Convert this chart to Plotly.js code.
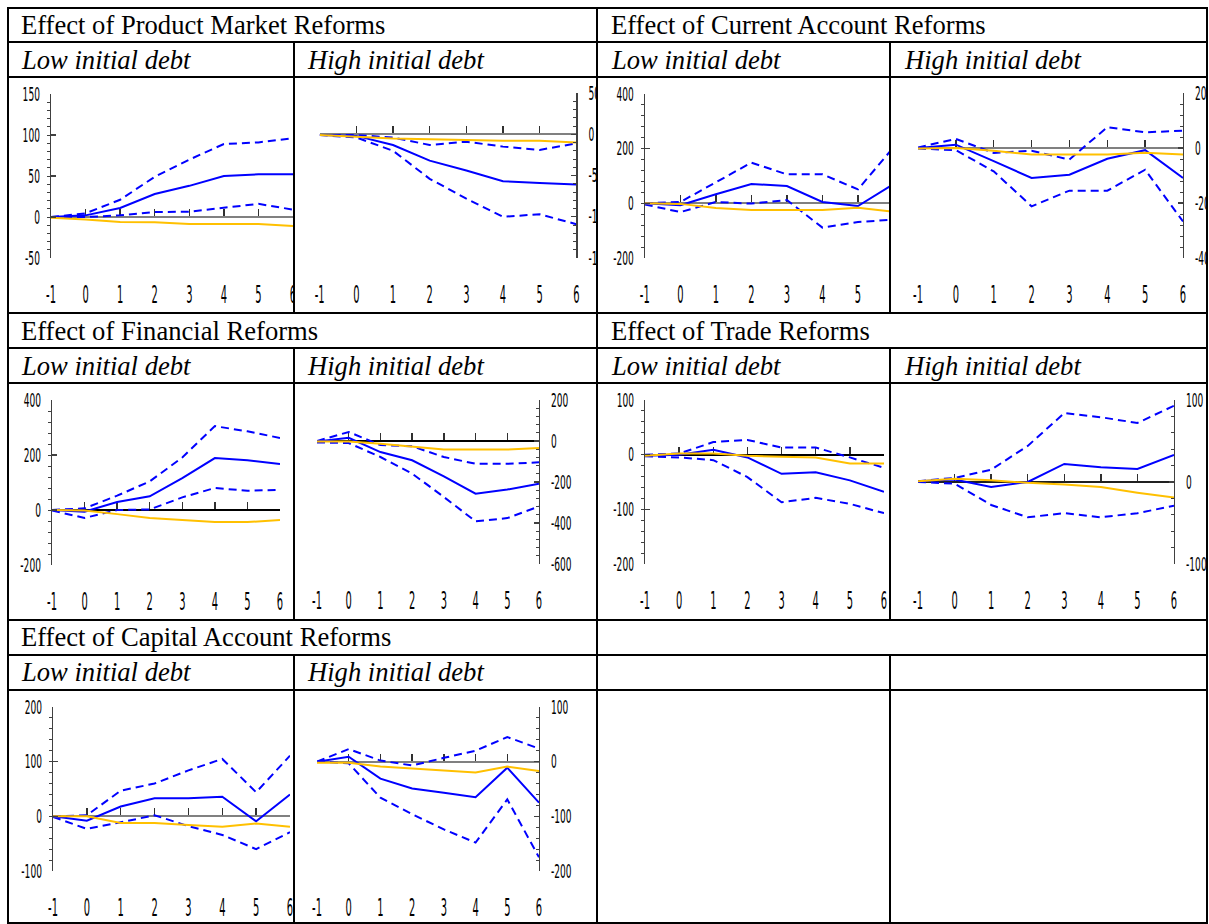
<!DOCTYPE html>
<html><head><meta charset="utf-8">
<script src="https://cdn.plot.ly/plotly-3.0.1.min.js"></script>
<style>html,body{margin:0;padding:0;background:#fff}#chart{width:1209px;height:924px}</style>
</head><body><div id="chart"></div>
<script>
// ---------- data ----------
const periods = [-1, 0, 1, 2, 3, 4, 5, 6];
const periodLabels = ['-1', '0', '1', '2', '3', '4', '5', '6'];
const reformTitles = ['Effect of Product Market Reforms', 'Effect of Current Account Reforms',
  'Effect of Financial Reforms', 'Effect of Trade Reforms', 'Effect of Capital Account Reforms'];
const debtLabels = ['Low initial debt', 'High initial debt'];

// Product market reforms
const pmLowEffect = [0, 2, 11, 28, 38, 50, 52, 52];
const pmLowUpper = [0, 4.5, 21, 49, 70, 89, 91, 96];
const pmLowLower = [0, 0, 2, 6, 6.5, 11, 16, 9];
const pmLowOther = [-1, -3, -6, -6.5, -8.5, -8.5, -8.5, -11];
const pmHighEffect = [-1, -2, -13, -32, -44, -57, -59, -61];
const pmHighUpper = [-1, -1, -4, -13, -9, -15, -19, -11];
const pmHighLower = [-1, -4, -20, -54, -78, -100, -97, -109];
const pmHighOther = [-1, -3, -5, -6, -7, -8, -8, -10];
// Current account reforms
const caLowEffect = [0, -7, 33, 71, 63, 5, -10, 70];
const caLowUpper = [0, 5, 77, 149, 106, 106, 51, 205];
const caLowLower = [-4, -32, 5, -1, 12, -89, -68, -60];
const caLowOther = [0, -2, -17, -24, -24, -24, -16, -31];
const caHighEffect = [0, 12, -48, -109, -97, -39, -8, -109];
const caHighUpper = [2, 33, -18, -10, -42, 76, 57, 63];
const caHighLower = [-2, -8, -85, -212, -155, -155, -79, -267];
const caHighOther = [-2, 0, -10, -24, -24, -24, -17, -24];
// Financial reforms
const finLowEffect = [0, -6, 29, 50, 116, 189, 181, 167];
const finLowUpper = [0, 6, 52, 104, 191, 305, 286, 262];
const finLowLower = [-2, -29, 0, 2, 46, 80, 70, 73];
const finLowOther = [0, -2, -15, -29, -36, -44, -44, -36];
const finHighEffect = [-3, 16, -54, -94, -172, -257, -237, -208];
const finHighUpper = [0, 44, -20, -26, -78, -111, -111, -104];
const finHighLower = [-7, -10, -78, -159, -273, -392, -376, -319];
const finHighOther = [-3, -3, -13, -29, -42, -42, -42, -34];
// Trade reforms
const trLowEffect = [-2, 0, 9, -5, -35, -32, -47, -68];
const trLowUpper = [0, 2, 23, 27, 13, 13, -5, -24];
const trLowLower = [-3, -5, -10, -41, -87, -79, -90, -107];
const trLowOther = [-2, 2, 2, -2, -4, -5, -16, -16];
const trHighEffect = [1, 3, -6, 0, 22, 18, 16, 33];
const trHighUpper = [1, 5, 15, 44, 84, 79, 72, 93];
const trHighLower = [0, -2, -28, -43, -38, -43, -38, -29];
const trHighOther = [1, 4, 2, -1, -3, -6, -13, -19];
// Capital account reforms
const kaLowEffect = [0, -8, 18, 33, 33, 36, -9, 40];
const kaLowUpper = [0, 2, 47, 60, 84, 105, 44, 111];
const kaLowLower = [-1, -23, -11, 2, -18, -34, -60, -29];
const kaLowOther = [0, 0, -12, -12, -16, -19, -13, -19];
const kaHighEffect = [0, 9, -31, -49, -57, -65, -11, -75];
const kaHighUpper = [0, 23, 2, -7, 7, 20, 45, 24];
const kaHighLower = [0, -3, -66, -96, -124, -148, -69, -175];
const kaHighOther = [-2, -2, -9, -13, -16, -20, -9, -17];

// ---------- layout geometry (pixels) ----------
const W = 1209, H = 924;
const px = v => v / W;
const py = v => 1 - v / H;

const panels = [
  {x0: 51, x1: 293, top: 94, bottom: 258, range: [-50, 150], dtick: 50, side: 'left', zc: '#808080', s: [pmLowEffect, pmLowUpper, pmLowLower, pmLowOther]},
  {x0: 319.7, x1: 576.3, top: 93, bottom: 258, range: [-150, 50], dtick: 50, side: 'right', zc: '#808080', s: [pmHighEffect, pmHighUpper, pmHighLower, pmHighOther]},
  {x0: 644.8, x1: 893.5, top: 94, bottom: 258, range: [-200, 400], dtick: 200, side: 'left', zc: '#808080', s: [caLowEffect, caLowUpper, caLowLower, caLowOther]},
  {x0: 918, x1: 1183, top: 93, bottom: 258, range: [-400, 200], dtick: 200, side: 'right', zc: '#808080', s: [caHighEffect, caHighUpper, caHighLower, caHighOther]},
  {x0: 52, x1: 280, top: 400, bottom: 565, range: [-200, 400], dtick: 200, side: 'left', zc: '#000000', s: [finLowEffect, finLowUpper, finLowLower, finLowOther]},
  {x0: 317, x1: 539, top: 400, bottom: 564, range: [-600, 200], dtick: 200, side: 'right', zc: '#000000', s: [finHighEffect, finHighUpper, finHighLower, finHighOther]},
  {x0: 645, x1: 884, top: 400, bottom: 564, range: [-200, 100], dtick: 100, side: 'left', zc: '#000000', s: [trLowEffect, trLowUpper, trLowLower, trLowOther]},
  {x0: 918, x1: 1174, top: 400, bottom: 564, range: [-100, 100], dtick: 100, side: 'right', zc: '#202020', s: [trHighEffect, trHighUpper, trHighLower, trHighOther]},
  {x0: 53, x1: 290, top: 707, bottom: 871, range: [-100, 200], dtick: 100, side: 'left', zc: '#808080', s: [kaLowEffect, kaLowUpper, kaLowLower, kaLowOther]},
  {x0: 317, x1: 539, top: 707, bottom: 871, range: [-200, 100], dtick: 100, side: 'right', zc: '#808080', s: [kaHighEffect, kaHighUpper, kaHighLower, kaHighOther]}
];

const BLUE = '#0000FF', ORANGE = '#FFC000';
const tickFont = {family: 'DejaVu Sans Condensed, DejaVu Sans, sans-serif', color: '#000', size: 19};
const xTickFont = Object.assign({}, tickFont, {size: 24});

const data = [];
const layout = {
  width: W, height: H,
  margin: {l: 0, r: 0, t: 0, b: 0, pad: 0},
  paper_bgcolor: '#fff', plot_bgcolor: 'rgba(0,0,0,0)',
  showlegend: false,
  shapes: [], annotations: []
};

panels.forEach((p, i) => {
  const n = i + 1;
  const xa = n === 1 ? 'x' : 'x' + n;
  const ya = n === 1 ? 'y' : 'y' + n;
  const za = 'x' + (n + 10);
  const xKey = n === 1 ? 'xaxis' : 'xaxis' + n;
  const yKey = n === 1 ? 'yaxis' : 'yaxis' + n;
  const zKey = 'xaxis' + (n + 10);
  const dom = [px(p.x0), px(p.x1)];
  const ydom = [py(p.bottom), py(p.top)];

  const [eff, up, lo, oth] = p.s;
  const base = {x: periods, xaxis: xa, yaxis: ya, type: 'scatter', mode: 'lines', hoverinfo: 'skip', cliponaxis: true};
  data.push(Object.assign({}, base, {y: up, line: {color: BLUE, width: 2, dash: '8px,5px'}}));
  data.push(Object.assign({}, base, {y: lo, line: {color: BLUE, width: 2, dash: '8px,5px'}}));
  data.push(Object.assign({}, base, {y: eff, line: {color: BLUE, width: 2}}));
  data.push(Object.assign({}, base, {y: oth, line: {color: ORANGE, width: 2}}));
  // empty trace to register the zero-line axis on this subplot
  data.push({x: [], y: [], xaxis: za, yaxis: ya, type: 'scatter', mode: 'lines', hoverinfo: 'skip'});

  layout[xKey] = {
    domain: dom, anchor: ya, range: [-1, 6], fixedrange: true,
    tickmode: 'array', tickvals: periods, ticktext: periodLabels,
    showline: false, ticks: '', showgrid: false, zeroline: false,
    ticklabelstandoff: 20, tickfont: xTickFont
  };
  const yLeft = p.side === 'left';
  layout[yKey] = {
    domain: ydom, anchor: xa, side: p.side, range: p.range, fixedrange: true,
    tick0: 0, dtick: p.dtick, showgrid: false, zeroline: false,
    showline: true, linecolor: '#404040', linewidth: 1.3,
    ticks: 'inside', ticklen: 5, tickwidth: 1.2, tickcolor: '#404040',
    minor: {dtick: p.dtick / 5, ticks: yLeft ? 'outside' : 'inside', ticklen: 3, tickwidth: 1, tickcolor: '#404040', showgrid: false},
    ticklabelstandoff: yLeft ? 6 : 7, tickfont: tickFont
  };
  const zeroPx = p.top + (p.range[1] - 0) / (p.range[1] - p.range[0]) * (p.bottom - p.top);
  layout[zKey] = {
    domain: dom, overlaying: xa, anchor: 'free', position: py(zeroPx), side: 'bottom',
    range: [-1, 6], fixedrange: true, dtick: 1, tick0: 0,
    showline: true, linecolor: p.zc, linewidth: 2,
    ticks: 'inside', ticklen: 7, tickwidth: 1.5, tickcolor: '#303030',
    showticklabels: false, showgrid: false, zeroline: false, layer: 'below traces'
  };
});

// ---------- masks to clip overflowing labels at the cell borders ----------
function mask(x0, x1, y0, y1) {
  layout.shapes.push({type: 'rect', xref: 'paper', yref: 'paper', layer: 'above',
    x0: px(x0), x1: px(x1), y0: py(y1), y1: py(y0), fillcolor: '#fff', line: {width: 0}});
}
mask(294, 304, 78, 312);
mask(597, 613, 78, 312);
mask(890, 907, 78, 312);
mask(1206, 1209, 78, 312);
mask(1206, 1209, 384, 619);
mask(294, 304, 691, 922);

// ---------- table borders ----------
function hline(y, x0, x1) {
  layout.shapes.push({type: 'line', xref: 'paper', yref: 'paper', layer: 'above',
    x0: px(x0), x1: px(x1), y0: py(y), y1: py(y), line: {color: '#000', width: 2}});
}
function vline(x, y0, y1) {
  layout.shapes.push({type: 'line', xref: 'paper', yref: 'paper', layer: 'above',
    x0: px(x), x1: px(x), y0: py(y0), y1: py(y1), line: {color: '#000', width: 2}});
}
[8, 42, 77, 313, 348, 383, 620, 655, 690, 923].forEach(y => hline(y, 7, 1208));
[8, 597, 1207].forEach(x => vline(x, 7, 924));
[294, 890].forEach(x => { vline(x, 42, 313); vline(x, 348, 620); vline(x, 655, 924); });

// ---------- cell texts ----------
const serif = {family: 'Liberation Serif, Times New Roman, serif', size: 26.6, color: '#000'};
function label(text, x, y, italic) {
  layout.annotations.push({text: text, xref: 'paper', yref: 'paper', x: px(x), y: py(y),
    xanchor: 'left', yanchor: 'middle', showarrow: false, borderpad: 0,
    font: Object.assign({}, serif, italic ? {style: 'italic'} : {})});
}
const titleRows = [25, 331, 637];
const subRows = [60, 366, 672];
const colStarts = [20, 610];
const subStarts = [[20, 306], [610, 903]];
reformTitles.forEach((t, k) => {
  const row = Math.floor(k / 2), col = k % 2;
  label(t, colStarts[col], titleRows[row], false);
  label(debtLabels[0], subStarts[col][0], subRows[row], true);
  label(debtLabels[1], subStarts[col][1], subRows[row], true);
});

// ---------- render; narrow the tick digits like the original ----------
function squeeze(gd) {
  const apply = (t, sx) => {
    if (t.textContent.indexOf('\u2212') >= 0) t.textContent = t.textContent.replace(/\u2212/g, '-');
    const cur = t.getAttribute('transform') || '';
    if (t.getAttribute('data-sq') === cur && cur !== '') return;
    const x = parseFloat(t.getAttribute('x')) || 0;
    const y = parseFloat(t.getAttribute('y')) || 0;
    const next = cur + ' translate(' + x + ',' + y + ') scale(' + sx + ',1) translate(' + (-x) + ',' + (-y) + ')';
    t.setAttribute('transform', next);
    t.setAttribute('data-sq', next);
  };
  gd.querySelectorAll('g').forEach(g => {
    const c = g.getAttribute('class') || '';
    let sx = null;
    if (/^x\d*tick$/.test(c)) sx = 0.46;
    else if (/^y\d*tick$/.test(c)) sx = 0.53;
    if (sx === null) return;
    Array.from(g.children).forEach(t => { if (t.tagName.toLowerCase() === 'text') apply(t, sx); });
  });
}
const gd = document.getElementById('chart');
Plotly.newPlot(gd, data, layout, {staticPlot: true, displayModeBar: false})
  .then(() => {
    try {
      squeeze(gd);
      gd.on('plotly_afterplot', () => squeeze(gd));
      const obs = new MutationObserver(() => squeeze(gd));
      obs.observe(gd, {subtree: true, childList: true, attributes: true, attributeFilter: ['transform']});
      [50, 150, 400, 900, 1500].forEach(ms => setTimeout(() => squeeze(gd), ms));
    } catch (e) {}
  });
</script>
</body></html>
